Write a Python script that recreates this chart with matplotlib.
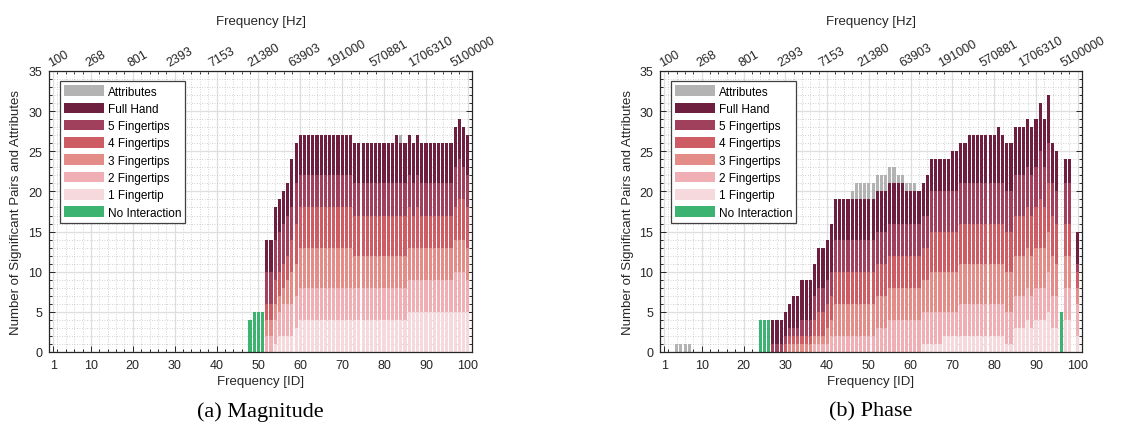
import numpy as np
import matplotlib.pyplot as plt
from matplotlib.ticker import MultipleLocator, FixedLocator
from matplotlib.transforms import ScaledTranslation

plt.rcParams['font.family'] = ['Liberation Sans', 'DejaVu Sans']

# frequency index 1..100 and the Hz value printed on the top axis
ids = np.arange(1, 101)
tick_ids = [1, 10, 20, 30, 40, 50, 60, 70, 80, 90, 100]
hz_labels = ['100', '268', '801', '2393', '7153', '21380', '63903',
             '191000', '570881', '1706310', '5100000']

layer_names = ['1 Fingertip', '2 Fingertips', '3 Fingertips',
               '4 Fingertips', '5 Fingertips', 'Full Hand']
layer_colors = ['#f6d9dc', '#f0afb4', '#e48c87', '#cd5c64', '#a0405c', '#6e1f3f']
attr_color = '#b3b3b3'
none_color = '#3cb371'

# ---- (a) magnitude, one value per frequency ID (rows of 10) ----
mag_one = [0]*50 + [0, 0, 0, 1, 2, 2, 2, 2, 3, 4] + [4]*10 + [4]*10 \
    + [4, 4, 4, 4, 4, 5, 5, 5, 5, 5] + [5]*10
mag_two = [0]*50 + [0, 2, 2, 3, 3, 4, 4, 4, 4, 4] + [4]*10 + [4]*10 + [4]*10 \
    + [4, 4, 4, 4, 4, 4, 5, 5, 5, 4]
mag_three = [0]*50 + [0, 2, 2, 2, 2, 2, 3, 4, 4, 5] + [5]*10 \
    + [5, 5, 4, 4, 4, 4, 4, 4, 4, 4] + [4]*10 + [4]*10
mag_four = [0]*50 + [0, 2, 2, 3, 3, 3, 3, 4, 5, 5] + [5]*10 + [5]*10 \
    + [5, 5, 5, 5, 5, 5, 4, 5, 4, 4] + [4, 4, 4, 4, 4, 4, 4, 5, 5, 5]
mag_five = [0]*50 + [0, 4, 4, 5, 5, 5, 5, 4, 5, 4] + [4]*10 + [4]*10 + [4]*10 \
    + [4, 4, 4, 4, 4, 4, 5, 5, 4, 4]
mag_hand = [0]*50 + [0, 4, 4, 4, 4, 4, 4, 6, 5, 5] + [5]*10 + [5]*10 \
    + [5, 5, 6, 5, 5, 5, 5, 5, 5, 5] + [5]*10
mag_attr = [0]*80 + [0, 0, 0, 1, 0, 0, 0, 0, 0, 0] + [0]*10
mag_none = [0]*40 + [0, 0, 0, 0, 0, 0, 0, 4, 5, 5] + [5, 0, 0, 0, 0, 0, 0, 0, 0, 0] + [0]*40

# ---- (b) phase ----
ph_one = [0]*60 + [0, 0, 1, 1, 1, 1, 1, 2, 2, 2] + [2]*10 \
    + [2, 2, 1, 1, 3, 3, 3, 4, 3, 4] + [4, 4, 5, 3, 3, 0, 4, 4, 0, 2]
ph_two = [0]*30 + [0, 0, 0, 0, 0, 0, 1, 1, 1, 1] + [2]*10 \
    + [2, 3, 3, 3, 4, 4, 4, 4, 4, 4] + [4, 4, 4, 4, 4, 4, 4, 3, 3, 3] \
    + [3, 4, 4, 4, 4, 4, 4, 4, 4, 4] + [4]*10 + [4, 4, 5, 4, 4, 0, 4, 4, 0, 4]
ph_three = [0]*30 + [1, 1, 1, 1, 1, 1, 1, 1, 1, 2] + [2, 4, 4, 4, 4, 4, 4, 4, 4, 4] \
    + [4]*10 + [4, 4, 4, 4, 5, 5, 5, 5, 5, 5] + [5]*10 + [5]*10 \
    + [5, 5, 5, 5, 4, 0, 4, 4, 0, 2]
ph_four = [0]*20 + [0, 0, 0, 0, 0, 0, 0, 0, 0, 1] + [1, 1, 1, 1, 1, 1, 2, 3, 3, 3] \
    + [3, 4, 4, 4, 4, 4, 4, 4, 4, 4] + [4]*10 + [4, 4, 4, 4, 5, 5, 5, 5, 5, 5] \
    + [5]*10 + [5]*10 + [6, 5, 6, 5, 5, 0, 4, 4, 0, 2]
ph_five = [0]*20 + [0, 0, 0, 0, 0, 0, 1, 1, 1, 1] + [1, 1, 1, 2, 2, 2, 3, 3, 3, 3] \
    + [3, 4, 4, 4, 4, 4, 4, 4, 4, 4] + [4]*10 + [4, 4, 4, 4, 5, 5, 5, 5, 5, 5] \
    + [5]*10 + [5]*10 + [6, 5, 5, 4, 4, 0, 5, 5, 0, 1]
ph_hand = [0]*20 + [0, 0, 0, 0, 0, 0, 3, 3, 3, 3] + [3, 4, 4, 5, 5, 5, 4, 5, 5, 5] \
    + [6, 5, 5, 5, 5, 5, 5, 5, 5, 5] + [5, 5, 5, 5, 5, 5, 5, 5, 4, 4] \
    + [4, 4, 4, 5, 4, 4, 4, 4, 4, 5] + [5, 5, 5, 6, 6, 6, 6, 6, 6, 6] \
    + [7, 6, 6, 6, 6, 6, 6, 6, 6, 6] + [6, 6, 6, 5, 5, 0, 3, 3, 0, 4]
ph_attr = [0, 0, 0, 1, 1, 1, 1, 0, 0, 0] + [0]*30 + [0, 0, 0, 0, 0, 1, 2, 2, 2, 2] \
    + [2, 2, 2, 2, 2, 2, 1, 1, 1, 1] + [1, 0, 0, 0, 0, 0, 0, 0, 0, 0] + [0]*30
ph_none = [0]*20 + [0, 0, 0, 4, 4, 4, 0, 0, 0, 0] + [0]*60 + [0, 0, 0, 0, 0, 5, 0, 0, 0, 0]

edge = '#262626'
bar_w = 0.75


def draw_panel(fig, ax, layers, attr, none, caption):
    bottom = np.zeros(len(ids))
    handles = []
    for vals, name, color in zip(layers, layer_names, layer_colors):
        vals = np.array(vals)
        h = ax.bar(ids, vals, bar_w, bottom=bottom, color=color, linewidth=0, label=name)
        handles.append(h)
        bottom += vals
    h_attr = ax.bar(ids, attr, bar_w, bottom=bottom, color=attr_color, linewidth=0, label='Attributes')
    h_none = ax.bar(ids, none, bar_w, color=none_color, linewidth=0, label='No Interaction')

    ax.set_xlim(0, 101)
    ax.set_ylim(0, 35)
    ax.set_xticks(tick_ids)
    ax.xaxis.set_minor_locator(FixedLocator(range(2, 101, 2)))
    ax.yaxis.set_major_locator(MultipleLocator(5))
    ax.yaxis.set_minor_locator(MultipleLocator(1))
    ax.set_axisbelow(True)
    ax.grid(which='major', color='#dedede', linewidth=0.9)
    ax.grid(which='minor', color='#c4c4c4', linestyle=(0, (1, 2)), linewidth=0.6)
    ax.tick_params(which='both', direction='in', right=True, top=False,
                   color=edge, labelsize=9, labelcolor=edge, width=0.7)
    ax.tick_params(which='major', length=4, pad=5)
    ax.tick_params(which='minor', length=2)
    for s in ax.spines.values():
        s.set_color(edge)
        s.set_linewidth(0.9)

    ax.set_xlabel('Frequency [ID]', fontsize=9.5, color=edge, labelpad=3)
    ax.set_ylabel('Number of Significant Pairs and Attributes', fontsize=9.5,
                  color=edge, labelpad=4)

    top = ax.secondary_xaxis('top')
    top.set_xticks(tick_ids, labels=hz_labels)
    top.xaxis.set_minor_locator(FixedLocator(range(2, 101, 2)))
    top.tick_params(which='both', direction='in', color=edge, labelsize=9,
                    labelcolor=edge, width=0.7, labelrotation=30, pad=2)
    top.tick_params(which='major', length=4)
    top.tick_params(which='minor', length=2)
    # rotated Hz labels sit a little to the right of their ticks
    shift = ScaledTranslation(5 / 100, 0, fig.dpi_scale_trans)
    for lab in top.xaxis.get_majorticklabels():
        lab.set_ha('center')
        lab.set_transform(lab.get_transform() + shift)
    top.spines['top'].set_visible(False)
    top.set_xlabel('Frequency [Hz]', fontsize=9.5, color=edge, labelpad=7)

    order = [h_attr] + handles[::-1] + [h_none]
    leg = ax.legend(order, [h.get_label() for h in order], loc='upper left',
                    bbox_to_anchor=(0.026, 0.964), borderaxespad=0, fontsize=8.5,
                    handlelength=3.4, handleheight=1.0, labelspacing=0.42,
                    handletextpad=0.3, borderpad=0.35, fancybox=False,
                    edgecolor='#404040', framealpha=1)
    leg.get_frame().set_linewidth(0.9)

    ax.text(0.5, -0.21, caption, transform=ax.transAxes, ha='center', va='center',
            fontsize=16, family=['Liberation Serif', 'DejaVu Serif'])


fig = plt.figure(figsize=(11.21, 4.35), dpi=100)
ax_a = fig.add_axes([49 / 1121, 82 / 435, 423 / 1121, 281 / 435])
ax_b = fig.add_axes([660 / 1121, 82 / 435, 422 / 1121, 281 / 435])

draw_panel(fig, ax_a, [mag_one, mag_two, mag_three, mag_four, mag_five, mag_hand],
           mag_attr, mag_none, '(a) Magnitude')
draw_panel(fig, ax_b, [ph_one, ph_two, ph_three, ph_four, ph_five, ph_hand],
           ph_attr, ph_none, '(b) Phase')

fig.savefig('out.png', dpi=100)
